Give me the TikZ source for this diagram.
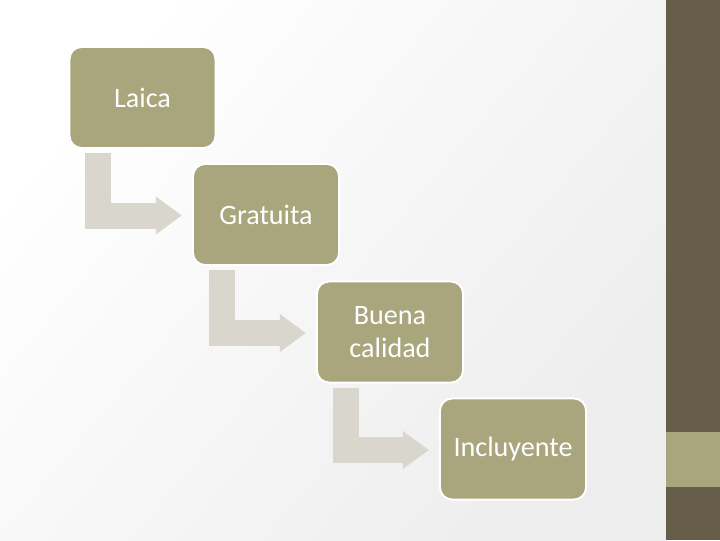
\documentclass[tikz,border=0pt]{standalone}
\usepackage{fontspec}
\setmainfont{Carlito}
\usepackage{xcolor}
\usepackage{tikz}
\usetikzlibrary{arrows.meta}
\usetikzlibrary{calc}

\definecolor{olive}{HTML}{A9A57D}
\definecolor{darkolive}{HTML}{665E48}
\definecolor{paleolive}{HTML}{D9D7CD}

\tikzset{
    stagebox/.style = {draw = white, line width = 0.05cm, fill = olive,
        rounded corners = 0.3cm, minimum width = 3.65cm, minimum height = 2.525cm,
        text = white, align = center, font = \fontsize{20}{23}\selectfont},
    bentarrow/.style = {draw = paleolive, line width = 0.65cm, line join = miter,
        -{Triangle[length = 0.65cm, width = 0.9cm]}}
}

\begin{document}
\begin{tikzpicture}[x = 0.025cm, y = -0.025cm]
        \useasboundingbox (0, 0) rectangle (720, 540);
        \shade[left color = white, right color = gray!14, shading angle = 50]
            (0, 0) rectangle (666, 540);
        \fill[darkolive] (666, 0) rectangle (720, 540);
        \fill[olive] (666, 432) rectangle (720, 487);

        \node[stagebox] (laica) at (142.5, 97.5) {Laica};
        \node[stagebox] (gratuita) at (266, 214.5) {Gratuita};
        \node[stagebox] (buena) at (390, 332) {Buena\\calidad};
        \node[stagebox] (incluyente) at (513, 449) {Incluyente};

        \draw[bentarrow] ($(laica.south west) + (30, 4)$)
            |- ($(gratuita.west) + (-10, 1)$);
        \draw[bentarrow] ($(gratuita.south west) + (30, 4)$)
            |- ($(buena.west) + (-10, 1)$);
        \draw[bentarrow] ($(buena.south west) + (30, 4)$)
            |- ($(incluyente.west) + (-10, 1)$);
    \end{tikzpicture}
\end{document}
